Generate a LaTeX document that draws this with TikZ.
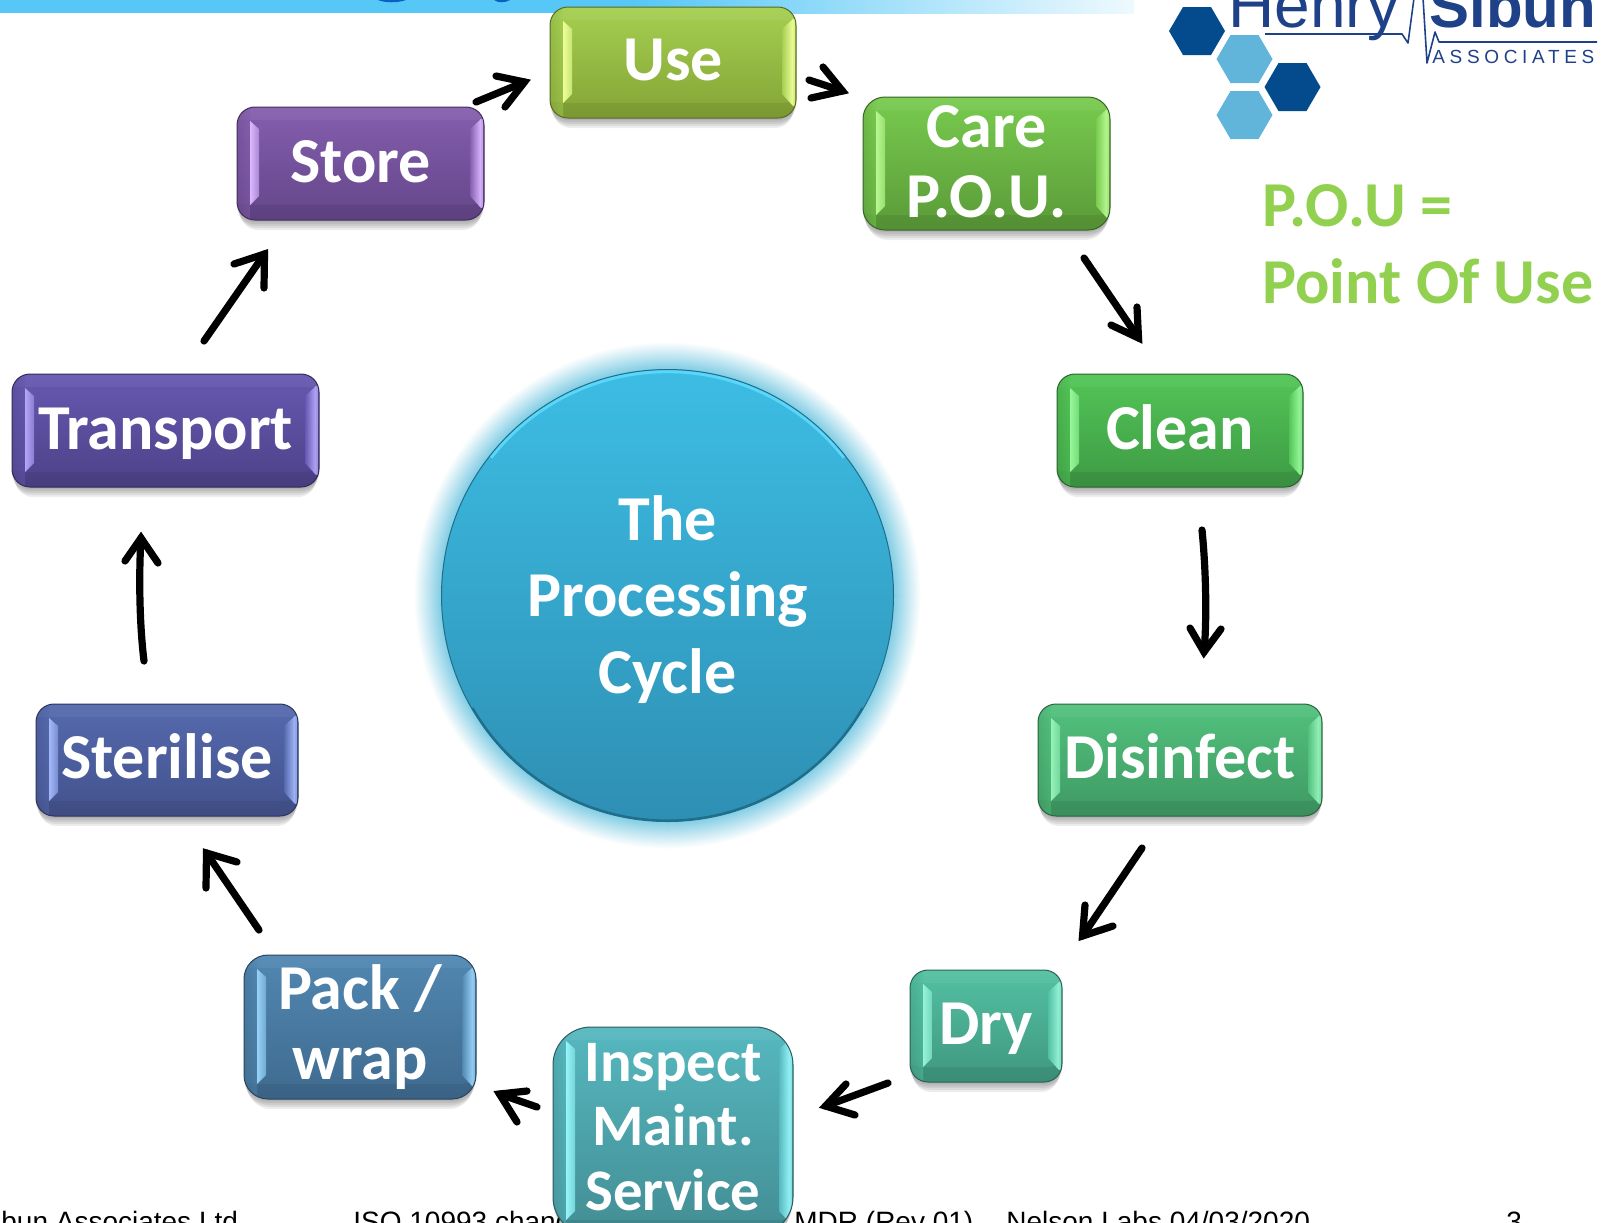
\documentclass[tikz,border=0pt]{standalone}
\usepackage{fontspec}
\setmainfont{Carlito}
\newfontfamily\arialf{Liberation Sans}
\usetikzlibrary{calc}
\definecolor{usetop}{HTML}{A5CF50}\definecolor{usebot}{HTML}{84A436}\definecolor{uselight}{HTML}{EEFF99}
\definecolor{caretop}{HTML}{78CB4F}\definecolor{carebot}{HTML}{5A9A38}\definecolor{carelight}{HTML}{B8F892}
\definecolor{cleantop}{HTML}{52C556}\definecolor{cleanbot}{HTML}{3E9A45}\definecolor{cleanlight}{HTML}{98F79C}
\definecolor{disinfecttop}{HTML}{52C17D}\definecolor{disinfectbot}{HTML}{3F9963}\definecolor{disinfectlight}{HTML}{96F2BA}
\definecolor{drytop}{HTML}{53C0A2}\definecolor{drybot}{HTML}{3F977F}\definecolor{drylight}{HTML}{96F2D8}
\definecolor{inspecttop}{HTML}{56B8BF}\definecolor{inspectbot}{HTML}{438D94}\definecolor{inspectlight}{HTML}{96F5F8}
\definecolor{packtop}{HTML}{5187B1}\definecolor{packbot}{HTML}{3F6A8F}\definecolor{packlight}{HTML}{98D2F8}
\definecolor{sterilisetop}{HTML}{5569AD}\definecolor{sterilisebot}{HTML}{43528D}\definecolor{steriliselight}{HTML}{A2B8F8}
\definecolor{transporttop}{HTML}{6658B1}\definecolor{transportbot}{HTML}{4D4288}\definecolor{transportlight}{HTML}{B5A6F8}
\definecolor{storetop}{HTML}{855EAE}\definecolor{storebot}{HTML}{644689}\definecolor{storelight}{HTML}{DCB8FF}
\definecolor{logoblue}{HTML}{1F4188}\definecolor{hexdark}{HTML}{034B8C}\definecolor{hexlight}{HTML}{62B5DA}
\definecolor{barblue}{HTML}{56C7F6}\definecolor{glowc}{HTML}{7FCCE4}\definecolor{pougreen}{HTML}{92D050}
\definecolor{circtop}{HTML}{3DBDE4}\definecolor{circbot}{HTML}{2E8FB3}\definecolor{circedge}{HTML}{1F6E8C}
\definecolor{circrim}{HTML}{5AD6F8}\definecolor{titleblue}{HTML}{0A62C0}
\tikzset{
  pilltext/.style={text=white,align=center,inner sep=0pt,outer sep=0pt},
  hand/.style={line width=3.6pt,draw=black,line cap=round,line join=miter,miter limit=10},
  footer/.style={anchor=base west,inner sep=0pt,font=\arialf\fontsize{14}{14}\selectfont,text=black},
  logotext/.style={anchor=base west,inner sep=0pt,text=logoblue},
  poutext/.style={anchor=base west,inner sep=0pt,text=pougreen,font=\bfseries\fontsize{32}{32}\selectfont},
}
% name, x1,y1,x2,y2, radius, {fs}{leading}, dy(down), text
\newcommand\pill[9]{%
  \pgfmathsetmacro\pw{#4-#2}\pgfmathsetmacro\ph{#5-#3}%
  \pgfmathsetmacro\hw{(#4-#2)/2}\pgfmathsetmacro\hh{(#5-#3)/2}%
  \pgfmathsetmacro\pcx{(#2+#4)/2}\pgfmathsetmacro\pcy{(#3+#5)/2}%
  \foreach \d/\s in {10/3,8/2,6/1,4/0,2/0}{%
    \fill[black,opacity=.07,rounded corners=#6*.5pt] (#2+\s,#3+\d) rectangle (#4-\s,#5+\d);}
  \node[inner sep=0pt,outer sep=0pt,rectangle,rounded corners=#6*.5pt,
    minimum width=\pw*.5pt,minimum height=\ph*.5pt,
    top color=#1top,bottom color=#1bot,draw=#1bot!65!black,line width=.5pt,
    path picture={
        \begin{scope}[sharp corners]
        \fill[black,opacity=.07] (-\hw,\hh-17) -- (-\hw+13,\hh-15) -- (\hw-14,\hh-15) -- (\hw,\hh-17) -- (\hw,\hh) -- (-\hw,\hh) -- cycle;
        \fill[white,opacity=.05] (-\hw,-\hh) rectangle (\hw,-\hh+13);
        \shade[left color=#1top!85!black,right color=#1top,opacity=.5] (-\hw,-\hh) rectangle (-\hw+13,\hh);
        \shade[left color=#1light,right color=#1top!55!#1light]
          (-\hw+13,-\hh+14) -- (-\hw+22,-\hh+22) -- (-\hw+22,\hh-24) -- (-\hw+13,\hh-15) -- cycle;
        \shade[left color=#1top,right color=#1light]
          (\hw-14,-\hh+22) -- (\hw-3,-\hh+12) -- (\hw-3,\hh-12) -- (\hw-14,\hh-24) -- cycle;
        \fill[#1light,opacity=.8] (\hw-3,-\hh+12) rectangle (\hw-1,\hh-12);
        \end{scope}
      },
    label={[name=#1-text,pilltext,font=\bfseries\fontsize#7\selectfont,yshift=-#8*.5pt]center:{#9}}
  ] (#1) at (\pcx,\pcy) {};
}
\newcommand\hexa[3]{\fill[#3] (#1-28,#2) -- (#1-14,#2-24) -- (#1+14,#2-24) -- (#1+28,#2) -- (#1+14,#2+24) -- (#1-14,#2+24) -- cycle;}
% id, tail, tip, barb1, barb2 : shaft straight
\newcommand\handarrow[5]{%
  \coordinate (#1t) at #2; \coordinate (#1h) at #3; \coordinate (#1a) at #4; \coordinate (#1b) at #5;
  \draw[hand] (#1t) -- (#1h);
  \draw[hand] (#1a) -- (#1h) -- (#1b);}
\begin{document}
\begin{tikzpicture}[x=.5pt,y=-.5pt]
\useasboundingbox (0,0) rectangle (1604,1222);
\clip (0,0) rectangle (1604,1222);
% top bar
\fill[barblue] (0,0) rectangle (632,13);
\shade[left color=barblue,right color=barblue!10!white] (631,0) rectangle (1134,13);
\fill[titleblue] (378,0) .. controls (385,3) and (398,3) .. (406,0) -- cycle;
\fill[titleblue] (494,0) .. controls (498,3) and (505,3) .. (510,0) -- cycle;
% logo
\hexa{1197}{31}{hexdark}\hexa{1244.5}{59}{hexlight}\hexa{1292.5}{87}{hexdark}\hexa{1244.5}{115}{hexlight}
\node[logotext,font=\arialf\fontsize{32}{32}\selectfont] (henry) at (1228,27) {Henry};
\node[logotext,font=\arialf\bfseries\fontsize{30}{30}\selectfont] (sibun) at (1429,27) {Sibun};
\node[logotext,font=\arialf\fontsize{9.5}{9.5}\selectfont\addfontfeature{LetterSpace=24.5}] (assoc) at (1432,63) {ASSOCIATES};
\draw[logoblue,line width=.8pt,line join=round] (1265,34) -- (1402,34) -- (1408,43) -- (1414,-2);
\draw[logoblue,line width=.8pt,line join=round] (1423,-2) -- (1427,63) -- (1435,32) -- (1439,42) -- (1597,42);
% P.O.U.
\node[poutext] (poua) at (1262,226) {P.O.U =};
\node[poutext] (poub) at (1262,303) {Point Of Use};
% footer
\node[footer] (f1) at (1,1231) {bun Associates Ltd};
\node[footer] (f2) at (353,1231) {ISO 10993 chang};
\node[footer] (f3) at (794,1231) {MDR (Rev 01)};
\node[footer] (f4) at (1006,1231) {Nelson Labs 04/03/2020};
\node[footer] (f5) at (1506,1231) {3};
% glow + circle
\foreach \i in {0,...,28}{
  \pgfmathsetmacro\p{100*(\i/28)^1.05}
  \fill[glowc!\p!white] (667.5,595.5) circle[radius=254-\i];}
\node[circle,inner sep=0pt,outer sep=0pt,minimum size=226pt,top color=circtop,bottom color=circbot,draw=circedge,line width=.5pt,
  path picture={
    \draw[circrim,line width=1.6pt] plot[domain=218:322,samples=40] ({224*cos(\x)},{224*sin(\x)});
    \draw[circedge,line width=1pt] plot[domain=30:150,samples=40] ({225*cos(\x)},{225*sin(\x)});
  },
  label={[name=cycle-text,pilltext,font=\bfseries\fontsize{32}{38.4}\selectfont,yshift=-2pt]center:{The\\Processing\\Cycle}}
  ] (cycle) at (667.5,595.5) {};
% boxes
\pill{use}{550}{7}{796}{118}{18}{{32}{35}}{-3}{Use}
\pill{care}{863}{97}{1110}{230}{22}{{32}{35}}{-2}{Care\\P.O.U.}
\pill{clean}{1057}{374}{1303}{487}{18}{{32}{35}}{-3}{Clean}
\pill{disinfect}{1038}{704}{1322}{816}{18}{{32}{35}}{-4}{Disinfect}
\pill{dry}{910}{970}{1062}{1082}{18}{{32}{35}}{3}{Dry}
\pill{inspect}{553}{1027}{793}{1235}{38}{{29.4}{32.25}}{-4}{Inspect\\Maint.\\Service}
\pill{pack}{244}{955}{476}{1099}{24}{{32}{35}}{0}{Pack /\\wrap}
\pill{sterilise}{36}{704}{298}{816}{18}{{32}{35}}{-4}{Sterilise}
\pill{transport}{12}{374}{319}{487}{18}{{32}{35}}{3}{Transport}
\pill{store}{237}{107}{484}{220}{18}{{32}{35}}{-2}{Store}
% arrows
\handarrow{sa}{(476,102)}{(524.5,82)}{(496,76)}{(505,107)}
\handarrow{ua}{(809,80)}{(842.5,91)}{(823,67)}{(811,98)}
\coordinate (cat) at (1084,258); \coordinate (cah) at (1138.5,338); \coordinate (caa) at (1137,307); \coordinate (cab) at (1111,325);
\draw[hand] (cat) -- (cah); \draw[hand] (caa) -- (cah) -- (cab);
\coordinate (clt) at (1202,530); \coordinate (clh) at (1204,652); \coordinate (cla) at (1190,628); \coordinate (clb) at (1221,629);
\draw[hand] (clt) .. controls (1206,570) and (1207,620) .. (clh); \draw[hand] (cla) -- (clh) -- (clb);
\handarrow{di}{(1142,848)}{(1082.5,936)}{(1085,905)}{(1113,926)}
\handarrow{dr}{(888,1083)}{(825.5,1106)}{(846,1084)}{(855,1115)}
\handarrow{in}{(537,1107)}{(499.5,1094)}{(527,1091)}{(517,1122)}
\handarrow{pa}{(259,930)}{(206.5,853)}{(206,888)}{(237,862)}
\coordinate (stt) at (144,661); \coordinate (sth) at (141,538); \coordinate (sta) at (125,561); \coordinate (stb) at (158,563);
\draw[hand] (stt) .. controls (139,620) and (139,570) .. (sth); \draw[hand] (sta) -- (sth) -- (stb);
\handarrow{tr}{(204,341)}{(264.5,254)}{(234,264)}{(264,288)}
\end{tikzpicture}
\end{document}
